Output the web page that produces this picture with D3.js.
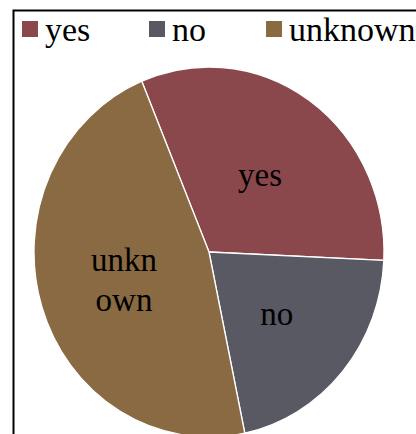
<!DOCTYPE html>
<html>
<head>
<meta charset="utf-8">
<script src="https://cdn.jsdelivr.net/npm/d3@7"></script>
<style>
  body { margin: 0; background: #fff; }
</style>
</head>
<body>
<div id="chart"></div>
<script>
const categories = ["yes", "no", "unknown"];
const shares = [32, 21, 47];
const sliceLabels = [["yes"], ["no"], ["unkn", "own"]];
const colors = ["#8a484c", "#595964", "#8a6a42"];

let w = 416;
let h = 434;
let cx = 209, cy = 252;
let r = 175;
let ky = 185 / 175; // pie is a bit stretched vertically

const svg = d3.select("#chart")
    .append("svg")
    .attr("width", w)
    .attr("height", h);

// outer frame (only top and left edges show)
svg.append("rect")
    .attr("x", 13.5)
    .attr("y", 10.5)
    .attr("width", 420)
    .attr("height", 440)
    .attr("fill", "none")
    .attr("stroke", "#000")
    .attr("stroke-width", 2);

let pie = d3.pie()
    .sort(null)
    .value(d => d)
    .startAngle(-22.6 * Math.PI / 180)
    .endAngle(-22.6 * Math.PI / 180 + 2 * Math.PI);

let arcs = pie(shares);
let arc = d3.arc().innerRadius(0).outerRadius(r);
let labelArc = d3.arc().innerRadius(89).outerRadius(89);

svg.append("g")
    .attr("transform", `translate(${cx},${cy}) scale(1,${ky})`)
    .selectAll("path")
    .data(arcs)
    .enter()
    .append("path")
    .attr("d", arc)
    .attr("fill", (d, i) => colors[i])
    .attr("stroke", "#fff")
    .attr("stroke-width", 1.3)
    .attr("vector-effect", "non-scaling-stroke");

// slice labels
let lg = svg.append("g").attr("transform", `translate(${cx},${cy})`);
arcs.forEach((d, i) => {
    let c = labelArc.centroid(d);
    let lines = sliceLabels[i];
    let lineH = 40;
    let y0 = c[1] * ky - (lines.length - 1) * lineH / 2;
    lines.forEach((t, j) => {
        lg.append("text")
            .attr("x", c[0])
            .attr("y", y0 + j * lineH)
            .attr("dy", "0.35em")
            .attr("text-anchor", "middle")
            .attr("font-family", "Liberation Serif, Times New Roman, serif")
            .attr("font-size", "33px")
            .attr("fill", "#000")
            .text(t);
    });
});

// legend
let legendX = [22, 149, 266];
let legend = svg.append("g");
categories.forEach((c, i) => {
    legend.append("rect")
        .attr("x", legendX[i])
        .attr("y", 21)
        .attr("width", 16)
        .attr("height", 16)
        .attr("fill", colors[i]);
    legend.append("text")
        .attr("x", legendX[i] + 23)
        .attr("y", 41)
        .attr("font-family", "Liberation Serif, Times New Roman, serif")
        .attr("font-size", "34px")
        .attr("fill", "#000")
        .text(c);
});
</script>
</body>
</html>
